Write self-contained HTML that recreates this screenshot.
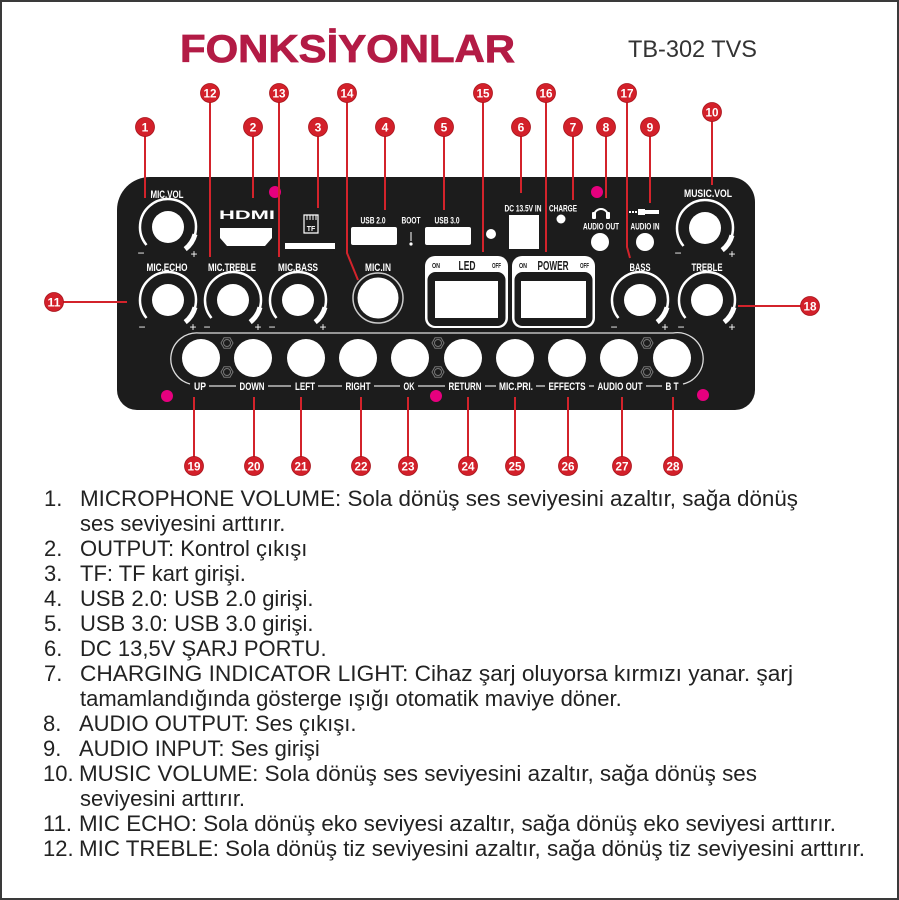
<!DOCTYPE html>
<html><head><meta charset="utf-8"><style>
html,body{margin:0;padding:0;background:#fff;}
svg{display:block;}
text{font-family:"Liberation Sans",Arial,sans-serif;}
</style></head><body>
<svg width="899" height="900" viewBox="0 0 899 900" xmlns="http://www.w3.org/2000/svg">
<rect x="1" y="1" width="897" height="898" fill="#fff" stroke="#3a3a3a" stroke-width="2"/>

<!-- Title -->
<text x="180" y="62" font-size="39" font-weight="bold" fill="#b31b45" stroke="#b31b45" stroke-width="0.8" textLength="335" lengthAdjust="spacingAndGlyphs">FONKSİYONLAR</text>
<text x="628" y="57" font-size="24" fill="#333" textLength="129" lengthAdjust="spacingAndGlyphs">TB-302 TVS</text>

<!-- Panel -->
<path d="M150 177 H730 A25 25 0 0 1 755 202 V390 A20 20 0 0 1 735 410 H137 A20 20 0 0 1 117 390 V210 A33 33 0 0 1 150 177 Z" fill="#1c1c1c"/>

<!-- Knobs -->
<g fill="none" stroke="#fff">
  <!-- MIC.VOL 168,227 -->
  <circle cx="168" cy="227" r="16" fill="#fff" stroke="none"/>
  <path d="M146.5 245 A28 28 0 1 1 186 248.5" stroke-width="2.5"/>
  <path d="M195 234.3 A28 28 0 0 1 185.2 249.1" stroke-width="5"/>
  <!-- MUSIC.VOL 705,228 -->
  <circle cx="705" cy="228" r="16" fill="#fff" stroke="none"/>
  <path d="M683.5 246 A28 28 0 1 1 723 249.5" stroke-width="2.5"/>
  <path d="M732 235.3 A28 28 0 0 1 722.2 250.1" stroke-width="5"/>
  <!-- MIC.ECHO 168,300 -->
  <circle cx="168" cy="300" r="16" fill="#fff" stroke="none"/>
  <path d="M146.5 318 A28 28 0 1 1 186 321.5" stroke-width="2.5"/>
  <path d="M195 307.3 A28 28 0 0 1 185.2 322.1" stroke-width="5"/>
  <!-- MIC.TREBLE 233,300 -->
  <circle cx="233" cy="300" r="16" fill="#fff" stroke="none"/>
  <path d="M211.5 318 A28 28 0 1 1 251 321.5" stroke-width="2.5"/>
  <path d="M260 307.3 A28 28 0 0 1 250.2 322.1" stroke-width="5"/>
  <!-- MIC.BASS 298,300 -->
  <circle cx="298" cy="300" r="16" fill="#fff" stroke="none"/>
  <path d="M276.5 318 A28 28 0 1 1 316 321.5" stroke-width="2.5"/>
  <path d="M325 307.3 A28 28 0 0 1 315.2 322.1" stroke-width="5"/>
  <!-- BASS 640,300 -->
  <circle cx="640" cy="300" r="16" fill="#fff" stroke="none"/>
  <path d="M618.5 318 A28 28 0 1 1 658 321.5" stroke-width="2.5"/>
  <path d="M667 307.3 A28 28 0 0 1 657.2 322.1" stroke-width="5"/>
  <!-- TREBLE 707,300 -->
  <circle cx="707" cy="300" r="16" fill="#fff" stroke="none"/>
  <path d="M685.5 318 A28 28 0 1 1 725 321.5" stroke-width="2.5"/>
  <path d="M734 307.3 A28 28 0 0 1 724.2 322.1" stroke-width="5"/>
</g>

<!-- plus / minus -->
<g fill="#fff" font-size="12" text-anchor="middle">
  <text x="141" y="257">−</text><text x="194" y="258">+</text>
  <text x="678" y="257">−</text><text x="732" y="258">+</text>
  <text x="142" y="331">−</text><text x="193" y="331">+</text>
  <text x="207" y="331">−</text><text x="258" y="331">+</text>
  <text x="272" y="331">−</text><text x="323" y="331">+</text>
  <text x="614" y="331">−</text><text x="665" y="331">+</text>
  <text x="681" y="331">−</text><text x="732" y="331">+</text>
</g>

<!-- Knob labels -->
<g fill="#fff" font-size="11" font-weight="bold" text-anchor="middle" lengthAdjust="spacingAndGlyphs">
  <text x="167" y="198" textLength="33" lengthAdjust="spacingAndGlyphs">MIC.VOL</text>
  <text x="708" y="197" textLength="48" lengthAdjust="spacingAndGlyphs">MUSIC.VOL</text>
  <text x="167" y="271" textLength="41" lengthAdjust="spacingAndGlyphs">MIC.ECHO</text>
  <text x="232" y="271" textLength="48" lengthAdjust="spacingAndGlyphs">MIC.TREBLE</text>
  <text x="298" y="271" textLength="40" lengthAdjust="spacingAndGlyphs">MIC.BASS</text>
  <text x="640" y="271" textLength="21" lengthAdjust="spacingAndGlyphs">BASS</text>
  <text x="707" y="271" textLength="31" lengthAdjust="spacingAndGlyphs">TREBLE</text>
  <text x="378" y="271" textLength="26" lengthAdjust="spacingAndGlyphs">MIC.IN</text>
</g>

<!-- HDMI -->
<text x="219" y="219" font-size="12" font-weight="bold" fill="#fff" textLength="56" lengthAdjust="spacingAndGlyphs">HDMI</text>
<path d="M220 228 H272 V238 L265 246 H227 L220 238 Z" fill="#fff"/>
<!-- TF -->
<path d="M304 215 H318 V233 H304 V219 Z" fill="none" stroke="#fff" stroke-width="1.2"/>
<g stroke="#fff" stroke-width="1"><line x1="307" y1="215" x2="307" y2="220"/><line x1="310" y1="215" x2="310" y2="220"/><line x1="313" y1="215" x2="313" y2="220"/><line x1="316" y1="215" x2="316" y2="220"/></g>
<text x="311" y="231" font-size="7" font-weight="bold" fill="#fff" text-anchor="middle">TF</text>
<rect x="285" y="243" width="50" height="6" fill="#fff"/>

<!-- USB etc -->
<g fill="#fff" font-size="9.5" font-weight="bold" text-anchor="middle">
  <text x="373" y="223.5" textLength="25" lengthAdjust="spacingAndGlyphs">USB 2.0</text>
  <text x="411" y="223.5" textLength="19" lengthAdjust="spacingAndGlyphs">BOOT</text>
  <text x="447" y="223.5" textLength="25" lengthAdjust="spacingAndGlyphs">USB 3.0</text>
  <text x="523" y="211.5" textLength="37" lengthAdjust="spacingAndGlyphs">DC 13.5V IN</text>
  <text x="563" y="211.5" textLength="28" lengthAdjust="spacingAndGlyphs">CHARGE</text>
  <text x="601" y="229.5" textLength="36" lengthAdjust="spacingAndGlyphs">AUDIO OUT</text>
  <text x="645" y="229.5" textLength="29" lengthAdjust="spacingAndGlyphs">AUDIO IN</text>
</g>
<rect x="351" y="227" width="46" height="18" rx="2" fill="#fff"/>
<rect x="425" y="227" width="46" height="18" rx="2" fill="#fff"/>
<line x1="411" y1="232" x2="411" y2="241" stroke="#fff" stroke-width="1"/>
<circle cx="411" cy="244" r="1.6" fill="#fff"/>
<circle cx="491" cy="234" r="5" fill="#fff"/>
<rect x="509" y="215" width="30" height="34" fill="#fff"/>
<circle cx="561" cy="219" r="4.5" fill="#fff"/>
<!-- headphone icon -->
<path d="M594 216 A7 7 0 0 1 608 216" fill="none" stroke="#fff" stroke-width="2"/>
<rect x="592" y="212" width="4" height="7" rx="1" fill="#fff"/>
<rect x="606" y="212" width="4" height="7" rx="1" fill="#fff"/>
<!-- audio in plug icon -->
<g fill="#fff">
  <rect x="629" y="211" width="2" height="2"/><rect x="632" y="211" width="2" height="2"/><rect x="635" y="211" width="2" height="2"/>
  <rect x="638" y="209" width="7" height="6"/><rect x="645" y="210" width="14" height="4"/>
</g>
<circle cx="600" cy="242" r="9" fill="#fff"/>
<circle cx="645" cy="242" r="9" fill="#fff"/>

<!-- MIC.IN jack -->
<circle cx="378" cy="298" r="25" fill="none" stroke="#ccc" stroke-width="1.5"/>
<circle cx="378" cy="298" r="20.5" fill="#fff"/>

<!-- LED switch -->
<rect x="425" y="256" width="83" height="72" rx="10" fill="#fff"/>
<rect x="427.5" y="272" width="78" height="54" rx="8" fill="#1c1c1c"/>
<rect x="435" y="281" width="63" height="37" fill="#fff"/>
<text x="432" y="268" font-size="7" font-weight="bold" fill="#1c1c1c" textLength="8" lengthAdjust="spacingAndGlyphs">ON</text>
<text x="467" y="270" font-size="13" font-weight="bold" fill="#1c1c1c" text-anchor="middle" textLength="17" lengthAdjust="spacingAndGlyphs">LED</text>
<text x="492" y="268" font-size="7" font-weight="bold" fill="#1c1c1c" textLength="9" lengthAdjust="spacingAndGlyphs">OFF</text>
<!-- POWER switch -->
<rect x="512" y="256" width="83" height="72" rx="10" fill="#fff"/>
<rect x="514.5" y="272" width="78" height="54" rx="8" fill="#1c1c1c"/>
<rect x="521" y="281" width="65" height="37" fill="#fff"/>
<text x="519" y="268" font-size="7" font-weight="bold" fill="#1c1c1c" textLength="8" lengthAdjust="spacingAndGlyphs">ON</text>
<text x="553" y="270" font-size="13" font-weight="bold" fill="#1c1c1c" text-anchor="middle" textLength="31" lengthAdjust="spacingAndGlyphs">POWER</text>
<text x="580" y="268" font-size="7" font-weight="bold" fill="#1c1c1c" textLength="9" lengthAdjust="spacingAndGlyphs">OFF</text>

<!-- Button row outline -->
<path d="M190 384 A26 26 0 0 1 199 333 H673 A26 26 0 0 1 683 384" fill="none" stroke="#ddd" stroke-width="1.3"/>
<line x1="195" y1="386" x2="678" y2="386" stroke="#ddd" stroke-width="1.2"/>
<!-- buttons -->
<g fill="#fff">
  <circle cx="201" cy="358" r="19"/><circle cx="253" cy="358" r="19"/><circle cx="306" cy="358" r="19"/>
  <circle cx="358" cy="358" r="19"/><circle cx="410" cy="358" r="19"/><circle cx="463" cy="358" r="19"/>
  <circle cx="515" cy="358" r="19"/><circle cx="567" cy="358" r="19"/><circle cx="619" cy="358" r="19"/>
  <circle cx="672" cy="358" r="19"/>
</g>
<!-- nuts -->
<g fill="none" stroke="#777" stroke-width="1">
  <polygon points="233,343 230,348.2 224,348.2 221,343 224,337.8 230,337.8"/><circle cx="227" cy="343" r="3.5"/>
  <polygon points="233,372 230,377.2 224,377.2 221,372 224,366.8 230,366.8"/><circle cx="227" cy="372" r="3.5"/>
  <polygon points="444,343 441,348.2 435,348.2 432,343 435,337.8 441,337.8"/><circle cx="438" cy="343" r="3.5"/>
  <polygon points="444,372 441,377.2 435,377.2 432,372 435,366.8 441,366.8"/><circle cx="438" cy="372" r="3.5"/>
  <polygon points="653,343 650,348.2 644,348.2 641,343 644,337.8 650,337.8"/><circle cx="647" cy="343" r="3.5"/>
  <polygon points="653,372 650,377.2 644,377.2 641,372 644,366.8 650,366.8"/><circle cx="647" cy="372" r="3.5"/>
</g>
<!-- label backgrounds -->
<g fill="#1c1c1c">
  <rect x="191" y="379" width="18" height="14"/><rect x="236" y="379" width="32" height="14"/>
  <rect x="291" y="379" width="27" height="14"/><rect x="342" y="379" width="32" height="14"/>
  <rect x="400" y="379" width="18" height="14"/><rect x="445" y="379" width="40" height="14"/>
  <rect x="496" y="379" width="40" height="14"/><rect x="545" y="379" width="44" height="14"/>
  <rect x="594" y="379" width="52" height="14"/><rect x="662" y="379" width="20" height="14"/>
</g>
<g fill="#fff" font-size="11" font-weight="bold" text-anchor="middle">
  <text x="200" y="390" textLength="12" lengthAdjust="spacingAndGlyphs">UP</text>
  <text x="252" y="390" textLength="25" lengthAdjust="spacingAndGlyphs">DOWN</text>
  <text x="305" y="390" textLength="20" lengthAdjust="spacingAndGlyphs">LEFT</text>
  <text x="358" y="390" textLength="25" lengthAdjust="spacingAndGlyphs">RIGHT</text>
  <text x="409" y="390" textLength="11" lengthAdjust="spacingAndGlyphs">OK</text>
  <text x="465" y="390" textLength="33" lengthAdjust="spacingAndGlyphs">RETURN</text>
  <text x="516" y="390" textLength="34" lengthAdjust="spacingAndGlyphs">MIC.PRI.</text>
  <text x="567" y="390" textLength="37" lengthAdjust="spacingAndGlyphs">EFFECTS</text>
  <text x="620" y="390" textLength="45" lengthAdjust="spacingAndGlyphs">AUDIO OUT</text>
  <text x="672" y="390" textLength="13" lengthAdjust="spacingAndGlyphs">B T</text>
</g>

<!-- pink dots -->
<g fill="#e6007e">
  <circle cx="275" cy="192" r="6"/><circle cx="597" cy="192" r="6"/>
  <circle cx="167" cy="396" r="6"/><circle cx="436" cy="396" r="6"/><circle cx="703" cy="395" r="6"/>
</g>

<!-- red leader lines -->
<g stroke="#d3232b" stroke-width="2" fill="none">
  <line x1="145" y1="127" x2="145" y2="198"/>
  <line x1="253" y1="127" x2="253" y2="198"/>
  <line x1="318" y1="127" x2="318" y2="208"/>
  <line x1="385" y1="127" x2="385" y2="210"/>
  <line x1="444" y1="127" x2="444" y2="210"/>
  <line x1="521" y1="127" x2="521" y2="193"/>
  <line x1="573" y1="127" x2="573" y2="200"/>
  <line x1="606" y1="127" x2="606" y2="198"/>
  <line x1="650" y1="127" x2="650" y2="203"/>
  <line x1="712" y1="112" x2="712" y2="185"/>
  <line x1="210" y1="93" x2="210" y2="257"/>
  <line x1="279" y1="93" x2="279" y2="257"/>
  <polyline points="347,93 347,253 358,280"/>
  <line x1="483" y1="93" x2="483" y2="252"/>
  <line x1="546" y1="93" x2="546" y2="252"/>
  <polyline points="627,93 627,247 630,258"/>
  <line x1="54" y1="302" x2="127" y2="302"/>
  <line x1="738" y1="306" x2="810" y2="306"/>
  <line x1="194" y1="397" x2="194" y2="466"/>
  <line x1="254" y1="397" x2="254" y2="466"/>
  <line x1="301" y1="397" x2="301" y2="466"/>
  <line x1="361" y1="397" x2="361" y2="466"/>
  <line x1="408" y1="397" x2="408" y2="466"/>
  <line x1="468" y1="397" x2="468" y2="466"/>
  <line x1="515" y1="397" x2="515" y2="466"/>
  <line x1="568" y1="397" x2="568" y2="466"/>
  <line x1="622" y1="397" x2="622" y2="466"/>
  <line x1="673" y1="397" x2="673" y2="466"/>
</g>

<!-- badges -->
<g fill="#d3202a" stroke="#a8141c" stroke-width="0.8">
  <circle cx="145" cy="127" r="9.5"/><circle cx="253" cy="127" r="9.5"/><circle cx="318" cy="127" r="9.5"/>
  <circle cx="385" cy="127" r="9.5"/><circle cx="444" cy="127" r="9.5"/><circle cx="521" cy="127" r="9.5"/>
  <circle cx="573" cy="127" r="9.5"/><circle cx="606" cy="127" r="9.5"/><circle cx="650" cy="127" r="9.5"/>
  <circle cx="712" cy="112" r="9.5"/><circle cx="210" cy="93" r="9.5"/><circle cx="279" cy="93" r="9.5"/>
  <circle cx="347" cy="93" r="9.5"/><circle cx="483" cy="93" r="9.5"/><circle cx="546" cy="93" r="9.5"/>
  <circle cx="627" cy="93" r="9.5"/><circle cx="54" cy="302" r="9.5"/><circle cx="810" cy="306" r="9.5"/>
  <circle cx="194" cy="466" r="9.5"/><circle cx="254" cy="466" r="9.5"/><circle cx="301" cy="466" r="9.5"/>
  <circle cx="361" cy="466" r="9.5"/><circle cx="408" cy="466" r="9.5"/><circle cx="468" cy="466" r="9.5"/>
  <circle cx="515" cy="466" r="9.5"/><circle cx="568" cy="466" r="9.5"/><circle cx="622" cy="466" r="9.5"/>
  <circle cx="673" cy="466" r="9.5"/>
</g>
<g fill="#fff" font-size="12" font-weight="bold" text-anchor="middle">
  <text x="145" y="131.5">1</text><text x="253" y="131.5">2</text><text x="318" y="131.5">3</text>
  <text x="385" y="131.5">4</text><text x="444" y="131.5">5</text><text x="521" y="131.5">6</text>
  <text x="573" y="131.5">7</text><text x="606" y="131.5">8</text><text x="650" y="131.5">9</text>
  <text x="712" y="116.5" textLength="13" lengthAdjust="spacingAndGlyphs">10</text>
  <text x="210" y="97.5" textLength="13" lengthAdjust="spacingAndGlyphs">12</text>
  <text x="279" y="97.5" textLength="13" lengthAdjust="spacingAndGlyphs">13</text>
  <text x="347" y="97.5" textLength="13" lengthAdjust="spacingAndGlyphs">14</text>
  <text x="483" y="97.5" textLength="13" lengthAdjust="spacingAndGlyphs">15</text>
  <text x="546" y="97.5" textLength="13" lengthAdjust="spacingAndGlyphs">16</text>
  <text x="627" y="97.5" textLength="13" lengthAdjust="spacingAndGlyphs">17</text>
  <text x="54" y="306.5" textLength="13" lengthAdjust="spacingAndGlyphs">11</text>
  <text x="810" y="310.5" textLength="13" lengthAdjust="spacingAndGlyphs">18</text>
  <text x="194" y="470.5" textLength="13" lengthAdjust="spacingAndGlyphs">19</text>
  <text x="254" y="470.5" textLength="13" lengthAdjust="spacingAndGlyphs">20</text>
  <text x="301" y="470.5" textLength="13" lengthAdjust="spacingAndGlyphs">21</text>
  <text x="361" y="470.5" textLength="13" lengthAdjust="spacingAndGlyphs">22</text>
  <text x="408" y="470.5" textLength="13" lengthAdjust="spacingAndGlyphs">23</text>
  <text x="468" y="470.5" textLength="13" lengthAdjust="spacingAndGlyphs">24</text>
  <text x="515" y="470.5" textLength="13" lengthAdjust="spacingAndGlyphs">25</text>
  <text x="568" y="470.5" textLength="13" lengthAdjust="spacingAndGlyphs">26</text>
  <text x="622" y="470.5" textLength="13" lengthAdjust="spacingAndGlyphs">27</text>
  <text x="673" y="470.5" textLength="13" lengthAdjust="spacingAndGlyphs">28</text>
</g>

<!-- Description list -->
<g fill="#222" font-size="22">
  <text x="44" y="506">1.</text>
  <text x="80" y="506" textLength="718" lengthAdjust="spacingAndGlyphs">MICROPHONE VOLUME: Sola dönüş ses seviyesini azaltır, sağa dönüş</text>
  <text x="80" y="531">ses seviyesini arttırır.</text>
  <text x="44" y="556">2.</text><text x="80" y="556">OUTPUT: Kontrol çıkışı</text>
  <text x="44" y="581">3.</text><text x="80" y="581">TF: TF kart girişi.</text>
  <text x="44" y="606">4.</text><text x="80" y="606">USB 2.0: USB 2.0 girişi.</text>
  <text x="44" y="631">5.</text><text x="80" y="631">USB 3.0: USB 3.0 girişi.</text>
  <text x="44" y="656">6.</text><text x="80" y="656">DC 13,5V ŞARJ PORTU.</text>
  <text x="44" y="681">7.</text>
  <text x="80" y="681" textLength="713" lengthAdjust="spacingAndGlyphs">CHARGING INDICATOR LIGHT: Cihaz şarj oluyorsa  kırmızı yanar. şarj</text>
  <text x="80" y="706">tamamlandığında gösterge ışığı otomatik maviye döner.</text>
  <text x="43" y="731">8.</text><text x="79" y="731">AUDIO OUTPUT: Ses çıkışı.</text>
  <text x="43" y="756">9.</text><text x="79" y="756">AUDIO INPUT: Ses girişi</text>
  <text x="43" y="781">10.</text>
  <text x="79" y="781" textLength="678" lengthAdjust="spacingAndGlyphs">MUSIC VOLUME: Sola dönüş ses seviyesini azaltır, sağa dönüş ses</text>
  <text x="80" y="806">seviyesini arttırır.</text>
  <text x="43" y="831">11.</text>
  <text x="79" y="831" textLength="757" lengthAdjust="spacingAndGlyphs">MIC ECHO: Sola dönüş eko seviyesi azaltır, sağa dönüş eko seviyesi arttırır.</text>
  <text x="43" y="856">12.</text>
  <text x="79" y="856" textLength="786" lengthAdjust="spacingAndGlyphs">MIC TREBLE: Sola dönüş tiz seviyesini azaltır, sağa dönüş tiz seviyesini arttırır.</text>
</g>
</svg>
</body></html>
